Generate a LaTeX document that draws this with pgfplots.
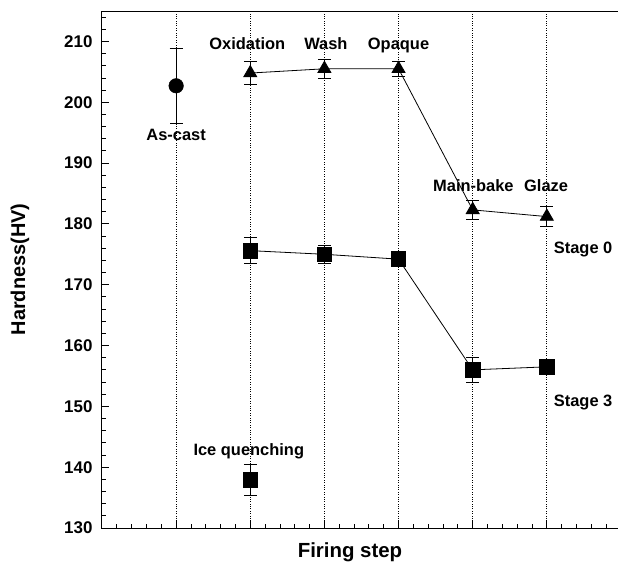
\documentclass[border=0pt]{standalone}
\usepackage{fontspec}
\setmainfont{Liberation Sans}
\usepackage{pgfplots}
\pgfplotsset{compat=1.18}
\begin{document}
\begin{tikzpicture}
\useasboundingbox (-102bp,-34bp) rectangle (516bp,528bp);
\begin{axis}[
  at={(0,0)}, anchor=south west,
  scale only axis, width=516bp, height=517bp,
  xmin=0, xmax=6.96, ymin=130, ymax=215,
  clip=false,
  axis line style={line width=1bp},
  tick style={black, line width=0.8bp},
  tick align=inside,
  major tick length=7bp, minor tick length=4bp,
  xtick={1,2,3,4,5,6}, xticklabels={},
  minor xtick={0.2,0.4,0.6,0.8,1.2,1.4,1.6,1.8,2.2,2.4,2.6,2.8,3.2,3.4,3.6,3.8,4.2,4.4,4.6,4.8,5.2,5.4,5.6,5.8,6.2,6.4,6.6,6.8},
  ytick={130,140,...,210},
  minor ytick={132,134,136,138,142,144,146,148,152,154,156,158,162,164,166,168,172,174,176,178,182,184,186,188,192,194,196,198,202,204,206,208,212,214},
  xtick pos=bottom, ytick pos=left,
  xmajorgrids, major grid style={black, dotted, line width=0.7bp},
  /pgf/number format/assume math mode=true,
  yticklabel style={font=\fontsize{17}{17}\selectfont\bfseries, xshift=-6bp},
  xlabel={Firing step}, ylabel={Hardness(HV)},
  xlabel style={font=\fontsize{20.5}{20}\selectfont\bfseries, at={(rel axis cs:0.5,0)}, anchor=center, yshift=-24bp, xshift=-10bp},
  ylabel style={font=\fontsize{20}{20}\selectfont\bfseries, at={(rel axis cs:0,0.5)}, anchor=center, yshift=82bp},
  error bars/error bar style={line width=0.8bp, black},
  error bars/error mark options={rotate=90, mark size=6.5bp, line width=0.8bp, black},
]
% Stage 0
\addplot[black, line width=0.8bp, mark=triangle*, mark size=7.5bp,
  error bars/.cd, y dir=both, y explicit]
  table[x=x, y=y, y error=e] {
x y e
2 204.8 1.9
3 205.5 1.5
4 205.5 1.2
5 182.3 1.6
6 181.2 1.6
};
% Stage 3
\addplot[black, line width=0.8bp, mark=square*, mark size=7.3bp,
  error bars/.cd, y dir=both, y explicit]
  table[x=x, y=y, y error=e] {
x y e
2 175.6 2.1
3 175.0 1.5
4 174.2 1.0
5 156.0 2.1
6 156.5 0.8
};
% As-cast
\addplot[black, only marks, mark=*, mark size=7.3bp,
  error bars/.cd, y dir=both, y explicit]
  table[x=x, y=y, y error=e] {
x y e
1 202.7 6.1
};
% Ice quenching
\addplot[black, only marks, mark=square*, mark size=7.3bp,
  error bars/.cd, y dir=both, y explicit]
  table[x=x, y=y, y error=e] {
x y e
2 137.9 2.6
};
\begin{scope}[every node/.style={font=\fontsize{16.5}{16.5}\selectfont\bfseries, inner sep=0pt, anchor=base}]
\node at (axis cs:1.0,193.7) {As-cast};
\node at (axis cs:1.96,208.6) {Oxidation};
\node at (axis cs:3.02,208.6) {Wash};
\node at (axis cs:4.0,208.6) {Opaque};
\node at (axis cs:5.01,185.4) {Main-bake};
\node at (axis cs:5.99,185.4) {Glaze};
\node at (axis cs:6.49,175.2) {Stage 0};
\node at (axis cs:6.49,150.0) {Stage 3};
\node at (axis cs:1.98,142.0) {Ice quenching};
\end{scope}
\end{axis}
\end{tikzpicture}
\end{document}
